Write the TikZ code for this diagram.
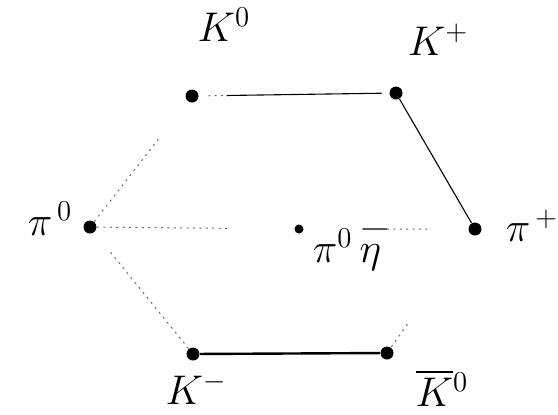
\documentclass[tikz,border=0pt]{standalone}
\usepackage{amsmath}
\usepackage{tikz}
\usetikzlibrary{calc}
\definecolor{ink}{HTML}{000000}
\definecolor{ink2}{HTML}{6A6A6A}
\tikzset{
  every picture/.style={line width=0.5pt,draw=ink},
  meson/.style={circle,fill=ink,inner sep=0pt,minimum size=6.5pt},
  smallmeson/.style={meson,minimum size=4.5pt},
  lbl/.style={font=\huge,text=ink,inner sep=0pt},
  edge/.style={draw=ink,line width=0.55pt},
  thick edge/.style={draw=ink,line width=1.2pt},
  faint/.style={draw=ink2,line width=0.5pt,dash pattern=on 1pt off 2.2pt},
}
\begin{document}
\begin{tikzpicture}[x=0.5pt,y=-0.5pt]
  \useasboundingbox (0,0) rectangle (558,414);
  % octet points
  \node[meson] (Kzero) at (192,96) {};
  \node[meson] (Kplus) at (396,93) {};
  \node[meson] (pizero) at (90,227) {};
  \node[smallmeson] (eta) at (299,229) {};
  \node[meson] (piplus) at (475,229) {};
  \node[meson] (Kminus) at (193,354) {};
  \node[meson] (Kbar) at (387,353) {};
  % labels
  \node[lbl] (lKzero) at (224,25) {$K^{0}$};
  \node[lbl] (lKplus) at (438,40) {$K^{+}$};
  \node[lbl] (lpizero) at (50,219) {$\pi^{\,0}$};
  \node[lbl] (lpiplus) at (532,226) {$\pi^{\,+}$};
  \node[lbl] (leta) at (347,250) {$\pi^{0}\,\eta$};
  \node[lbl] (lKminus) at (196,389) {$K^{-}$};
  \node[lbl] (lKbar) at (442,388) {$\overline{K}{}^{0}$};
  % edges
  \draw[faint] ($(Kzero)!0.08!(Kplus)$) -- ($(Kzero)!0.17!(Kplus)$);
  \draw[edge] ($(Kzero)!0.17!(Kplus)$) -- ($(Kzero)!0.93!(Kplus)$);
  \draw[edge] (Kplus) -- (piplus);
  \draw[thick edge] (Kminus) -- (Kbar);
  \draw[faint] (pizero) -- ($(pizero)!0.67!(Kzero)$);
  \draw[faint] ($(pizero)!0.2!(Kminus)$) -- (Kminus);
  \draw[faint] (pizero) -- ($(pizero)!0.67!(eta)$);
  \draw[edge] ($(eta)!0.36!(piplus)$) -- ($(eta)!0.5!(piplus)$);
  \draw[faint] ($(eta)!0.5!(piplus)$) -- ($(eta)!0.73!(piplus)$);
  \draw[faint] ($(Kbar)!0.05!(piplus)$) -- ($(Kbar)!0.24!(piplus)$);
\end{tikzpicture}
\end{document}
